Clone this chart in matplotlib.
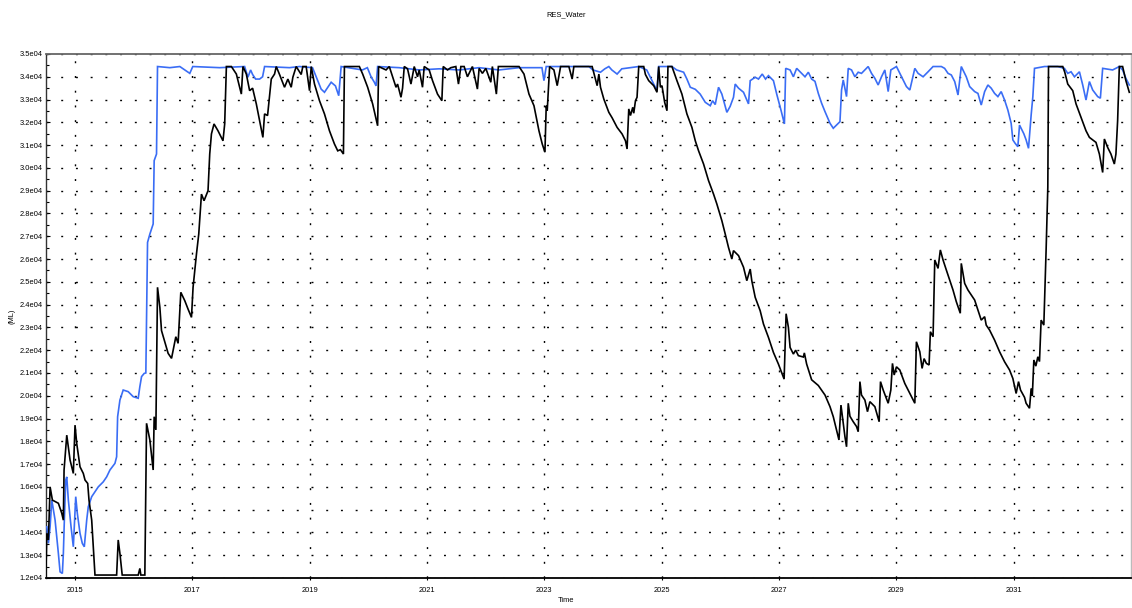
import matplotlib
matplotlib.use("Agg")
import matplotlib.pyplot as plt
from matplotlib.ticker import FixedLocator, MultipleLocator, FuncFormatter

# ---------------- data (decimal year, ML) ----------------
black_t = [2014.502, 2014.519, 2014.546, 2014.575, 2014.614, 2014.716, 2014.774, 2014.801, 2014.813, 2014.859,
           2014.886, 2014.915, 2014.971, 2015.000, 2015.029, 2015.085, 2015.141, 2015.170, 2015.216, 2015.238,
           2015.284, 2015.340, 2015.709, 2015.736, 2015.765, 2015.804, 2016.077, 2016.105, 2016.122, 2016.190,
           2016.219, 2016.276, 2016.332, 2016.349, 2016.378, 2016.406, 2016.446, 2016.474, 2016.587, 2016.645,
           2016.718, 2016.757, 2016.803, 2016.871, 2016.927, 2016.985, 2017.012, 2017.070, 2017.109, 2017.155,
           2017.199, 2017.267, 2017.296, 2017.325, 2017.369, 2017.437, 2017.522, 2017.551, 2017.580, 2017.665,
           2017.750, 2017.835, 2017.862, 2017.920, 2017.976, 2018.027, 2018.090, 2018.202, 2018.231, 2018.282,
           2018.345, 2018.401, 2018.430, 2018.486, 2018.571, 2018.628, 2018.685, 2018.713, 2018.770, 2018.855,
           2018.883, 2018.940, 2018.997, 2019.026, 2019.082, 2019.167, 2019.252, 2019.337, 2019.422, 2019.478,
           2019.524, 2019.575, 2019.592, 2019.847, 2019.903, 2019.988, 2020.073, 2020.158, 2020.175, 2020.301,
           2020.357, 2020.413, 2020.471, 2020.498, 2020.556, 2020.583, 2020.612, 2020.668, 2020.726, 2020.782,
           2020.838, 2020.867, 2020.923, 2020.952, 2021.037, 2021.094, 2021.179, 2021.253, 2021.276, 2021.349,
           2021.406, 2021.491, 2021.536, 2021.577, 2021.633, 2021.689, 2021.774, 2021.859, 2021.888, 2021.944,
           2022.002, 2022.087, 2022.114, 2022.182, 2022.216, 2022.568, 2022.653, 2022.738, 2022.823, 2022.908,
           2022.964, 2023.010, 2023.032, 2023.049, 2023.090, 2023.163, 2023.219, 2023.277, 2023.418, 2023.474,
           2023.503, 2023.815, 2023.900, 2023.929, 2023.957, 2024.014, 2024.099, 2024.155, 2024.240, 2024.325,
           2024.383, 2024.410, 2024.439, 2024.468, 2024.507, 2024.524, 2024.553, 2024.580, 2024.609, 2024.694,
           2024.723, 2024.779, 2024.864, 2024.920, 2024.949, 2024.978, 2025.005, 2025.051, 2025.090, 2025.107,
           2025.175, 2025.260, 2025.345, 2025.430, 2025.515, 2025.573, 2025.629, 2025.714, 2025.799, 2025.884,
           2025.940, 2026.026, 2026.083, 2026.139, 2026.196, 2026.224, 2026.310, 2026.395, 2026.451, 2026.509,
           2026.536, 2026.594, 2026.679, 2026.735, 2026.820, 2026.905, 2026.990, 2027.087, 2027.121, 2027.160,
           2027.189, 2027.245, 2027.284, 2027.330, 2027.415, 2027.432, 2027.471, 2027.556, 2027.670, 2027.784,
           2027.869, 2027.925, 2027.981, 2028.022, 2028.056, 2028.095, 2028.124, 2028.151, 2028.180, 2028.209,
           2028.265, 2028.321, 2028.350, 2028.379, 2028.406, 2028.464, 2028.508, 2028.549, 2028.634, 2028.707,
           2028.730, 2028.776, 2028.861, 2028.906, 2028.934, 2028.963, 2029.002, 2029.059, 2029.144, 2029.201,
           2029.257, 2029.315, 2029.342, 2029.400, 2029.439, 2029.473, 2029.512, 2029.558, 2029.580, 2029.626,
           2029.655, 2029.711, 2029.750, 2029.796, 2029.852, 2029.910, 2029.966, 2030.022, 2030.090, 2030.107,
           2030.165, 2030.221, 2030.335, 2030.391, 2030.447, 2030.505, 2030.532, 2030.590, 2030.675, 2030.760,
           2030.845, 2030.930, 2030.986, 2031.042, 2031.083, 2031.117, 2031.185, 2031.212, 2031.270, 2031.298,
           2031.318, 2031.344, 2031.378, 2031.412, 2031.440, 2031.468, 2031.514, 2031.553, 2031.582, 2031.594,
           2031.837, 2031.871, 2031.922, 2032.007, 2032.063, 2032.148, 2032.233, 2032.291, 2032.403, 2032.461,
           2032.517, 2032.546, 2032.602, 2032.658, 2032.716, 2032.743, 2032.772, 2032.801, 2032.857, 2032.913,
           2032.971]
black_v = [12060, 13960, 13670, 16000, 15420, 15280, 14840, 14540, 16740, 18270,
           17760, 17180, 16590, 18710, 17900, 16880, 16590, 16300, 16150, 15420,
           14540, 12130, 12130, 13670, 13080, 12130, 12130, 12420, 12130, 12130,
           18790, 18050, 16740, 19080, 18500, 24760, 23880, 22860, 21860, 21640,
           22590, 22300, 24540, 24170, 23800, 23440, 24760, 26220, 27100, 28850,
           28560, 29000, 30610, 31490, 31930, 31630, 31190, 31930, 34450, 34450,
           34120, 33240, 34450, 34120, 33390, 33500, 32810, 31340, 32370, 32300,
           33900, 34120, 34450, 34100, 33540, 33900, 33540, 33980, 34450, 34100,
           34450, 34450, 33390, 34450, 33680, 32950, 32370, 31630, 31050, 30750,
           30800, 30610, 34450, 34450, 34120, 33540, 32810, 31850, 34450, 34300,
           34450, 34000, 33540, 33680, 33100, 33500, 34450, 34350, 33680, 34450,
           34000, 34300, 33540, 34450, 34300, 33830, 33240, 32950, 34450, 34300,
           34400, 34450, 33680, 34450, 34450, 34000, 34450, 33460, 34370, 34150,
           34370, 33760, 34450, 33240, 34450, 34450, 34120, 33240, 32730, 31630,
           31050, 30690, 32730, 32510, 34450, 34300, 33610, 34450, 34450, 33900,
           34450, 34450, 33610, 34120, 33540, 33020, 32440, 32200, 31780, 31490,
           31190, 30830, 32590, 32300, 32660, 32400, 32950, 33100, 34450, 34450,
           34100, 33830, 33610, 33320, 34450, 33540, 33610, 32880, 32510, 34450,
           34450, 33830, 33240, 32370, 31780, 31190, 30750, 30170, 29440, 28850,
           28420, 27680, 27100, 26510, 26000, 26370, 26150, 25640, 25050, 25560,
           25050, 24320, 23730, 23150, 22560, 21900, 21390, 20730, 23600, 23000,
           22120, 21830, 22000, 21760, 21700, 21880, 21390, 20700, 20450, 20030,
           19520, 19080, 18500, 18060, 19590, 18790, 18200, 17760, 19670, 19100,
           18860, 18650, 18420, 20620, 20030, 19810, 19300, 19740, 19520, 18860,
           20620, 20250, 19670, 20250, 21420, 20910, 21270, 21130, 20540, 20250,
           19960, 19670, 22370, 21930, 21200, 21630, 21420, 21350, 22810, 22590,
           25960, 25590, 26400, 25960, 25520, 25080, 24640, 24130, 23620, 25810,
           24930, 24640, 24200, 23760, 23320, 23470, 23100, 22880, 22440, 21930,
           21490, 21130, 20760, 20100, 20620, 20250, 19930, 19670, 19450, 20320,
           20000, 21570, 21300, 21710, 21500, 23320, 23100, 26400, 29150, 34450,
           34450, 34200, 33680, 33390, 32810, 32220, 31630, 31340, 31120, 30610,
           29800, 31270, 30900, 30610, 30170, 30610, 32070, 34450, 34450, 33830,
           33320]

blue_t = [2014.502, 2014.519, 2014.546, 2014.575, 2014.604, 2014.660, 2014.716, 2014.745, 2014.784, 2014.801,
          2014.818, 2014.842, 2014.859, 2014.886, 2014.932, 2014.971, 2014.988, 2015.012, 2015.039, 2015.085,
          2015.124, 2015.158, 2015.199, 2015.226, 2015.284, 2015.396, 2015.481, 2015.539, 2015.595, 2015.680,
          2015.709, 2015.726, 2015.765, 2015.821, 2015.906, 2015.991, 2016.077, 2016.105, 2016.134, 2016.179,
          2016.207, 2016.219, 2016.236, 2016.276, 2016.332, 2016.349, 2016.389, 2016.406, 2016.616, 2016.786,
          2016.927, 2016.956, 2017.007, 2017.466, 2017.891, 2017.947, 2017.993, 2018.027, 2018.078, 2018.146,
          2018.197, 2018.231, 2018.656, 2018.827, 2019.048, 2019.138, 2019.195, 2019.252, 2019.308, 2019.366,
          2019.439, 2019.495, 2019.536, 2019.898, 2019.983, 2020.046, 2020.102, 2020.131, 2020.158, 2020.527,
          2020.867, 2021.207, 2021.548, 2021.888, 2022.228, 2022.568, 2022.959, 2022.993, 2023.032, 2023.759,
          2023.827, 2023.957, 2024.031, 2024.099, 2024.150, 2024.240, 2024.320, 2024.609, 2024.745, 2024.835,
          2024.920, 2024.949, 2025.175, 2025.255, 2025.374, 2025.430, 2025.488, 2025.573, 2025.656, 2025.743,
          2025.828, 2025.867, 2025.913, 2025.969, 2026.026, 2026.111, 2026.167, 2026.224, 2026.253, 2026.310,
          2026.395, 2026.480, 2026.509, 2026.594, 2026.650, 2026.714, 2026.770, 2026.820, 2026.905, 2026.961,
          2027.036, 2027.092, 2027.114, 2027.189, 2027.245, 2027.301, 2027.386, 2027.443, 2027.500, 2027.556,
          2027.613, 2027.670, 2027.726, 2027.784, 2027.869, 2027.925, 2027.981, 2028.039, 2028.066, 2028.095,
          2028.151, 2028.180, 2028.236, 2028.293, 2028.350, 2028.406, 2028.464, 2028.520, 2028.577, 2028.634,
          2028.690, 2028.747, 2028.804, 2028.861, 2028.906, 2029.002, 2029.059, 2029.116, 2029.172, 2029.230,
          2029.315, 2029.371, 2029.456, 2029.541, 2029.626, 2029.767, 2029.823, 2029.881, 2029.937, 2029.995,
          2030.051, 2030.107, 2030.192, 2030.250, 2030.335, 2030.391, 2030.447, 2030.505, 2030.561, 2030.617,
          2030.675, 2030.731, 2030.787, 2030.845, 2030.901, 2030.957, 2030.986, 2031.025, 2031.071, 2031.100,
          2031.173, 2031.212, 2031.253, 2031.298, 2031.327, 2031.355, 2031.526, 2031.752, 2031.865, 2031.922,
          2031.978, 2032.036, 2032.121, 2032.177, 2032.233, 2032.291, 2032.347, 2032.432, 2032.478, 2032.517,
          2032.687, 2032.801, 2032.857, 2032.913, 2032.971]
blue_v = [14250, 14250, 13520, 14250, 15420, 14540, 13080, 12270, 12200, 13080,
          14540, 16300, 16440, 15420, 14250, 13370, 14250, 15570, 14840, 13960,
          13520, 13370, 14540, 15130, 15570, 16000, 16220, 16440, 16740, 17030,
          17320, 19080, 19810, 20250, 20180, 19960, 19890, 20400, 20840, 20980,
          21000, 23320, 26730, 27100, 27540, 30320, 30610, 34450, 34400, 34450,
          34200, 34150, 34450, 34400, 34450, 33980, 34300, 34100, 33900, 33900,
          34000, 34450, 34400, 34450, 34400, 33830, 33460, 33320, 33540, 33760,
          33600, 33170, 34450, 34300, 34400, 34000, 33760, 33600, 34450, 34400,
          34300, 34350, 34300, 34400, 34300, 34400, 34400, 33830, 34450, 34450,
          34300, 34200, 34350, 34450, 34300, 34120, 34350, 34450, 34300, 33830,
          33390, 34450, 34450, 34300, 34200, 33900, 33540, 33450, 33240, 32880,
          32730, 32950, 32780, 33540, 33240, 32440, 32700, 33100, 33680, 33500,
          33320, 32810, 33830, 33980, 33900, 34120, 33900, 34050, 33830, 33240,
          32510, 31930, 34370, 34300, 34000, 34370, 34150, 34000, 34200, 33900,
          33800, 33270, 32840, 32470, 31960, 31740, 31880, 32030, 33420, 33860,
          33130, 34370, 34300, 34000, 34200, 34150, 34300, 34450, 34150, 33930,
          33640, 34000, 34300, 33350, 34300, 34450, 34150, 33860, 33570, 33420,
          34370, 34150, 34000, 34220, 34450, 34450, 34370, 34150, 34080, 33790,
          33200, 34450, 34000, 33570, 33350, 33270, 32760, 33350, 33640, 33500,
          33270, 33130, 33350, 32980, 32540, 31960, 31230, 31080, 30930, 31880,
          31500, 31230, 30860, 32320, 33130, 34370, 34450, 34450, 34370, 34150,
          34220, 34000, 34220, 33640, 32980, 33790, 33420, 33130, 33060, 34370,
          34300, 34450, 34300, 33930, 33640]

x_ticks = [2015, 2017, 2019, 2021, 2023, 2025, 2027, 2029, 2031]
y_min, y_max, y_step = 12000, 35000, 1000

title = "RES_Water"
y_label = "(ML)"
x_label = "Time"

# ---------------- figure ----------------
fs = 5.4
plt.rcParams['font.family'] = ['Liberation Sans', 'DejaVu Sans']
fig = plt.figure(figsize=(11.32, 6.08), dpi=100)
ax = fig.add_axes([45.7 / 1132, 30 / 608, (1131 - 45.7) / 1132, (578 - 54) / 608])

ax.plot(blue_t, blue_v, color='#3a6df5', lw=1.2, solid_joinstyle='miter', zorder=3)
ax.plot(black_t, black_v, color='black', lw=1.2, solid_joinstyle='miter', zorder=4)

ax.set_xlim(2014.5, 2033.0)
ax.set_ylim(y_min, y_max)

ax.xaxis.set_major_locator(FixedLocator(x_ticks))
ax.xaxis.set_major_formatter(FuncFormatter(lambda v, p: f"{int(round(v))}"))
ax.yaxis.set_major_locator(MultipleLocator(y_step))
ax.yaxis.set_minor_locator(MultipleLocator(y_step / 2))
ax.yaxis.set_major_formatter(FuncFormatter(lambda v, p: f"{v/1e4:.1f}e04"))

ax.tick_params(axis='y', which='major', direction='in', length=3, width=0.8, labelsize=fs, pad=2)
ax.tick_params(axis='y', which='minor', direction='in', length=2, width=0.8)
ax.tick_params(axis='x', which='major', direction='inout', length=3, width=0.8, labelsize=fs, pad=5)

ax.grid(True, which='major', color='black', lw=1.0, linestyle=(0, (1.4, 9.2)))

for side, col, w in [('left', '#333333', 1.0), ('bottom', 'black', 1.3),
                     ('top', '#666666', 1.3), ('right', '#bbbbbb', 1.0)]:
    ax.spines[side].set_color(col)
    ax.spines[side].set_linewidth(w)

fig.text(566 / 1132, 1 - 15 / 608, title, ha='center', va='center', fontsize=fs)
fig.text(12 / 1132, 1 - 316 / 608, y_label, ha='center', va='center', rotation=90, fontsize=fs)
fig.text(566 / 1132, 1 - 600 / 608, x_label, ha='center', va='center', fontsize=fs)

fig.savefig("out.png", dpi=100)
